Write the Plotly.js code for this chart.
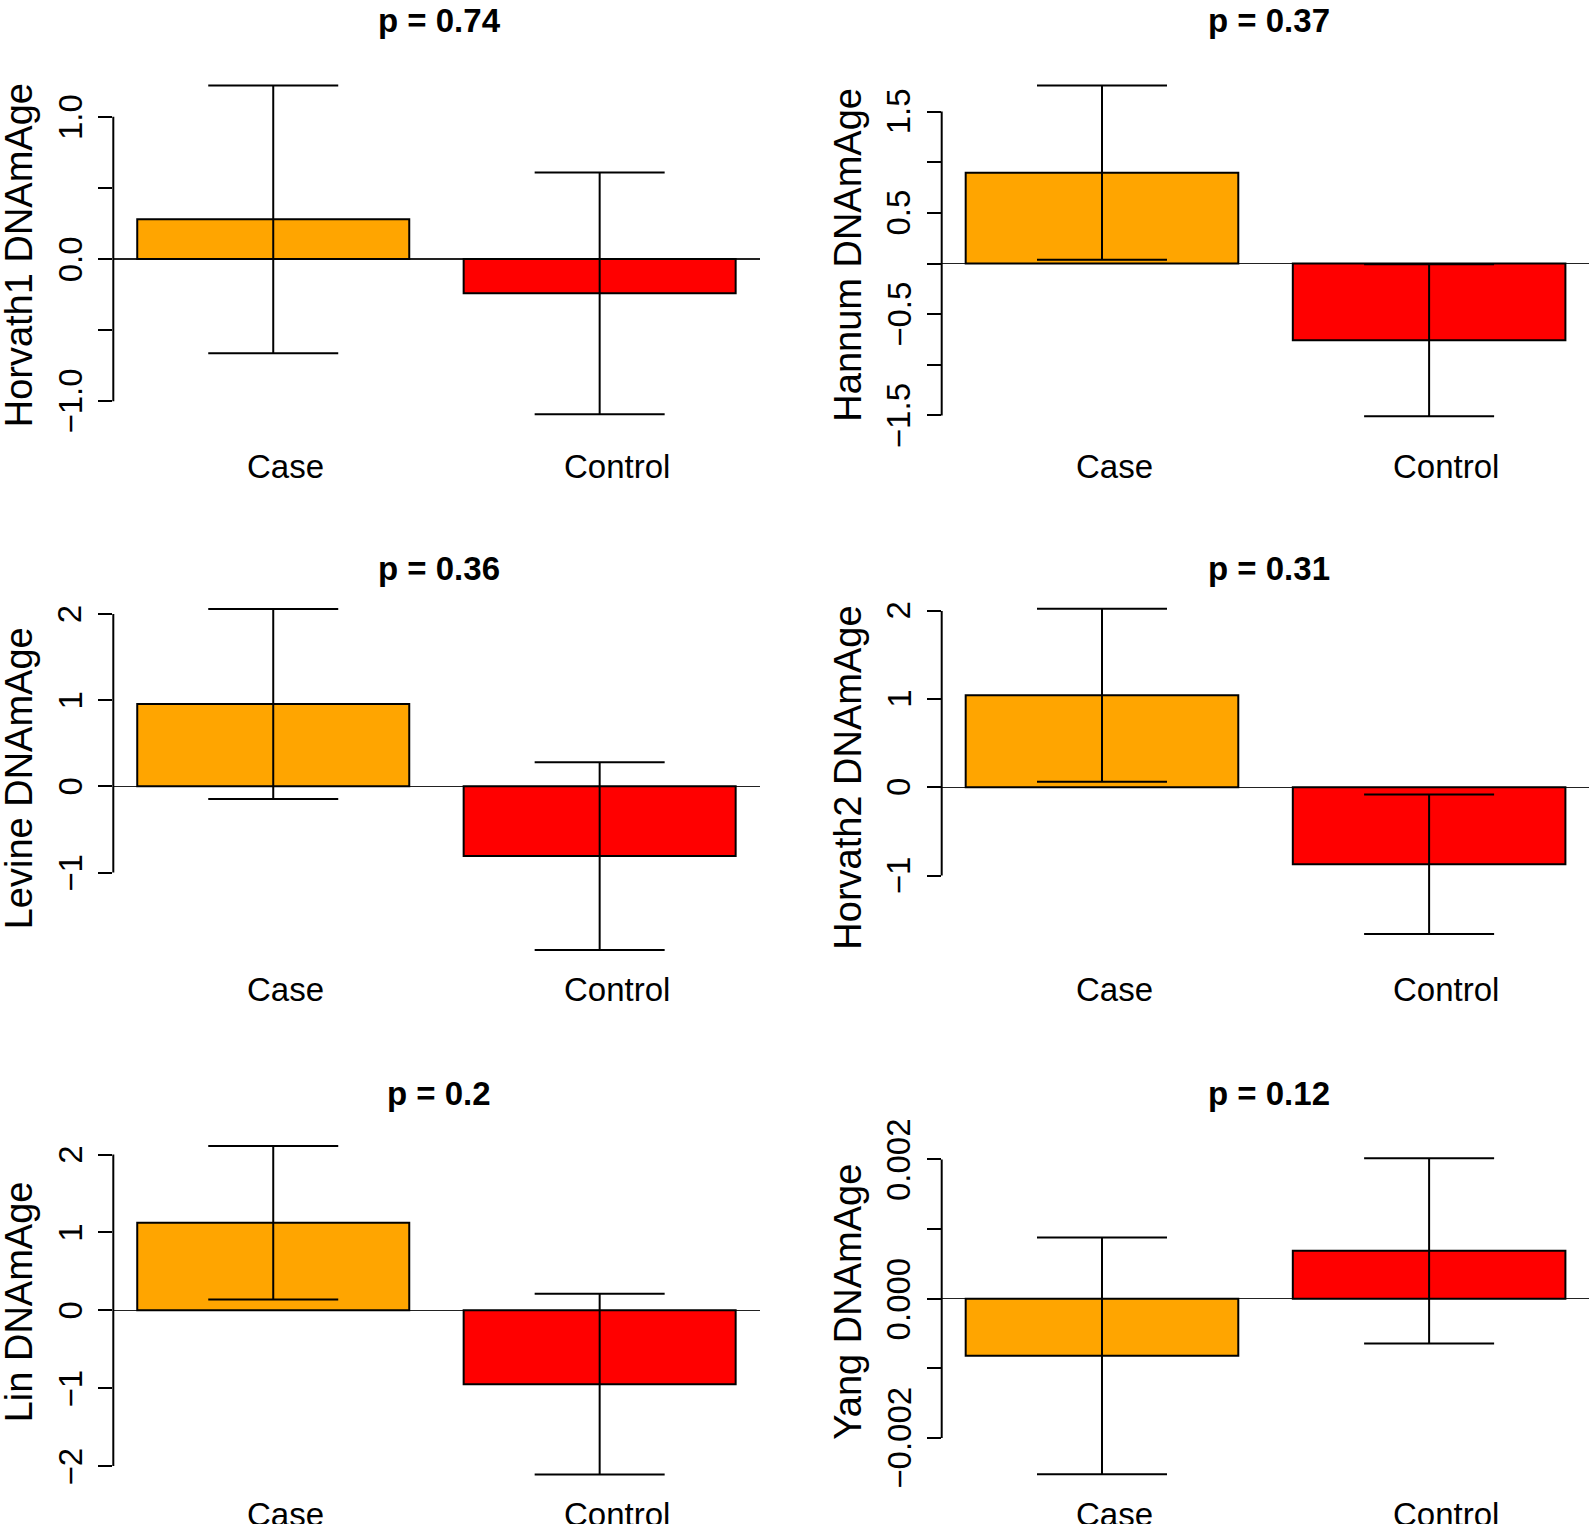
<!DOCTYPE html>
<html>
<head>
<meta charset="utf-8">
<script src="https://cdn.plot.ly/plotly-3.0.1.min.js"></script>
<style>
  html, body { margin: 0; padding: 0; background: white; }
  #graph { width: 1591px; height: 1524px; }
</style>
</head>
<body>
<div id="graph"></div>
<script>
// Datos: media y error de cada reloj epigenetico (Case, Control)
var groups = ['Case', 'Control'];
var clocks = ['Horvath1', 'Hannum', 'Levine', 'Horvath2', 'Lin', 'Yang'];
var pValues = ['0.74', '0.37', '0.36', '0.31', '0.2', '0.12'];

var horvath1Mean = [0.279, -0.241];
var horvath1Err = [0.942, 0.850];
var hannumMean = [0.896, -0.758];
var hannumErr = [0.860, 0.750];
var levineMean = [0.955, -0.810];
var levineErr = [1.103, 1.088];
var horvath2Mean = [1.043, -0.873];
var horvath2Err = [0.980, 0.790];
var linMean = [1.124, -0.948];
var linErr = [0.984, 1.160];
var yangMean = [-0.00082, 0.000688];
var yangErr = [0.00170, 0.00133];

// Marcas del eje y (R omite las etiquetas que se solapan)
var horvath1Ticks = [-1, -0.5, 0, 0.5, 1];
var horvath1Labels = ['\u22121.0', '', '0.0', '', '1.0'];
var hannumTicks = [-1.5, -1, -0.5, 0, 0.5, 1, 1.5];
var hannumLabels = ['\u22121.5', '', '\u22120.5', '', '0.5', '', '1.5'];
var levineTicks = [-1, 0, 1, 2];
var levineLabels = ['\u22121', '0', '1', '2'];
var horvath2Ticks = [-1, 0, 1, 2];
var horvath2Labels = ['\u22121', '0', '1', '2'];
var linTicks = [-2, -1, 0, 1, 2];
var linLabels = ['\u22122', '\u22121', '0', '1', '2'];
var yangTicks = [-0.002, -0.001, 0, 0.001, 0.002];
var yangLabels = ['\u22120.002', '', '0.000', '', '0.002'];

var means = [horvath1Mean, hannumMean, levineMean, horvath2Mean, linMean, yangMean];
var errs = [horvath1Err, hannumErr, levineErr, horvath2Err, linErr, yangErr];
var ticks = [horvath1Ticks, hannumTicks, levineTicks, horvath2Ticks, linTicks, yangTicks];
var tickLabels = [horvath1Labels, hannumLabels, levineLabels, horvath2Labels, linLabels, yangLabels];

// Estilo y disposicion
var barColors = ['#FFA500', '#FF0000'];
var W = 1591, H = 1524;
var font = 'Liberation Sans, Arial, Helvetica, sans-serif';
var colDomains = [[113.3 / W, 759.6 / W], [941.7 / W, 1589.4 / W]];
var rowPx = [[80, 430], [603, 953], [1127, 1477]];
var yRanges = [
    [-1.2025, 1.2588],
    [-1.6436, 1.8115],
    [-1.9339, 2.1265],
    [-1.8787, 2.0896],
    [-2.1399, 2.3530],
    [-0.00256, 0.002465]
];
var titlePx = [20, 569, 1093];
var labelPx = [466.7, 990, 1514];
var labelShift = [12.5, 17];

var data = [];
var layout = {
    width: W,
    height: H,
    margin: { l: 0, r: 0, t: 0, b: 0 },
    paper_bgcolor: 'white',
    plot_bgcolor: 'white',
    showlegend: false,
    bargap: 0,
    font: { family: font, color: 'black' },
    shapes: [],
    annotations: []
};

for (var i = 0; i < clocks.length; i++) {
    var row = Math.floor(i / 2), col = i % 2;
    var sx = i === 0 ? '' : String(i + 1);
    var xName = 'x' + sx, yName = 'y' + sx;

    data.push({
        type: 'bar',
        x: groups,
        y: means[i],
        width: 1 / 1.2,
        xaxis: xName,
        yaxis: yName,
        marker: { color: barColors, line: { color: 'black', width: 2 } },
        error_y: {
            type: 'data',
            array: errs[i],
            visible: true,
            color: 'black',
            thickness: 2,
            width: 65
        },
        hoverinfo: 'none'
    });

    layout['xaxis' + sx] = {
        domain: colDomains[col],
        anchor: yName,
        type: 'category',
        range: [-0.49, 1.49],
        showgrid: false,
        zeroline: false,
        showline: false,
        showticklabels: false,
        ticks: ''
    };
    layout['yaxis' + sx] = {
        domain: [1 - rowPx[row][1] / H, 1 - rowPx[row][0] / H],
        anchor: xName,
        range: yRanges[i],
        showgrid: false,
        zeroline: true,
        zerolinecolor: '#222',
        zerolinewidth: 1.5,
        showline: false,
        tickmode: 'array',
        tickvals: ticks[i],
        showticklabels: false,
        ticks: 'outside',
        ticklen: 14,
        tickwidth: 2,
        tickcolor: 'black'
    };

    // Linea del eje y solo entre la primera y la ultima marca (estilo R)
    layout.shapes.push({
        type: 'line',
        xref: xName + ' domain',
        yref: yName,
        x0: 0, x1: 0,
        y0: ticks[i][0],
        y1: ticks[i][ticks[i].length - 1],
        line: { color: 'black', width: 2 }
    });

    // Etiquetas del eje y, giradas como en R
    for (var t = 0; t < ticks[i].length; t++) {
        if (!tickLabels[i][t]) continue;
        layout.annotations.push({
            xref: xName + ' domain',
            yref: yName,
            x: 0,
            y: ticks[i][t],
            xshift: -43,
            xanchor: 'center',
            yanchor: 'middle',
            textangle: -90,
            showarrow: false,
            text: tickLabels[i][t],
            font: { size: 33, family: font, color: 'black' }
        });
    }

    // Titulo con el valor p
    layout.annotations.push({
        xref: xName + ' domain',
        yref: 'paper',
        x: 0.5,
        y: 1 - titlePx[row] / H,
        xshift: 3,
        xanchor: 'center',
        yanchor: 'middle',
        showarrow: false,
        text: 'p = ' + pValues[i],
        font: { size: 33, family: font, weight: 700, color: 'black' }
    });

    // Titulo del eje y
    layout.annotations.push({
        xref: xName + ' domain',
        yref: yName + ' domain',
        x: 0,
        y: 0.5,
        xshift: -94,
        xanchor: 'center',
        yanchor: 'middle',
        textangle: -90,
        showarrow: false,
        text: clocks[i] + ' DNAmAge',
        font: { size: 38, family: font, color: 'black' }
    });

    // Etiquetas de grupo
    for (var g = 0; g < groups.length; g++) {
        layout.annotations.push({
            xref: xName,
            yref: 'paper',
            x: groups[g],
            y: 1 - labelPx[row] / H,
            xshift: labelShift[g],
            xanchor: 'center',
            yanchor: 'middle',
            showarrow: false,
            text: groups[g],
            font: { size: 33, family: font, color: 'black' }
        });
    }
}

var config = {
    staticPlot: true,
    responsive: false
};
Plotly.newPlot('graph', data, layout, config);
</script>
</body>
</html>
